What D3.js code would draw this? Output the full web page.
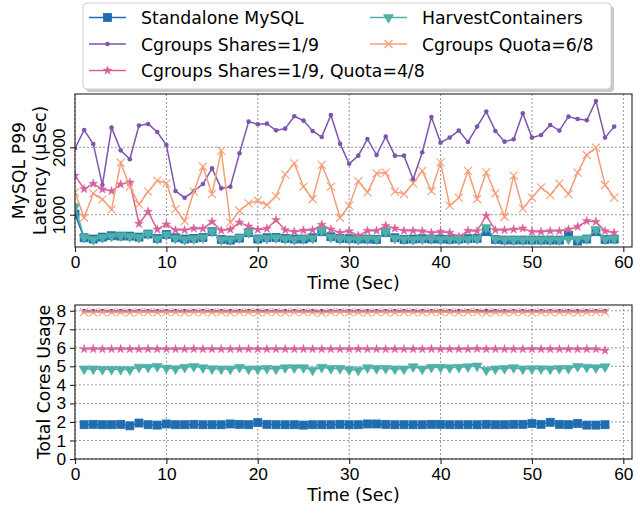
<!DOCTYPE html>
<html>
<head>
<meta charset="utf-8">
<script src="https://cdn.jsdelivr.net/npm/d3@7"></script>
<style>
  body { margin: 0; background: #fff; }
  svg { display: block; font-family: "DejaVu Sans", sans-serif; }
  .grid line { stroke: #8c8c8c; stroke-dasharray: 2,2; stroke-width: 0.9; }
  .axis text { font-size: 17.3px; fill: #000; }
  .axis path, .axis line { stroke: #222; stroke-width: 1.1; }
</style>
</head>
<body>
<div id="chart"></div>
<script>
var width = 636, height = 505;

// ---- data ----
var timeP99 = d3.range(0, 60);     // seconds 0..59
var timeCores = d3.range(1, 59);   // seconds 1..58

var standaloneP99 = [1010, 658, 639, 668, 688, 683, 683, 668, 713, 649,
  708, 658, 639, 649, 663, 748, 634, 624, 653, 733,
  639, 658, 663, 649, 639, 639, 658, 748, 673, 649,
  644, 639, 639, 634, 738, 658, 634, 639, 644, 639,
  639, 634, 639, 644, 649, 748, 634, 624, 624, 624,
  624, 624, 624, 624, 698, 609, 639, 748, 634, 639];
var harvestP99 = [1119, 663, 634, 663, 683, 688, 678, 663, 718, 644,
  703, 653, 634, 644, 658, 757, 629, 629, 658, 738,
  644, 653, 658, 644, 634, 644, 653, 762, 668, 644,
  639, 634, 644, 639, 748, 653, 639, 634, 639, 644,
  634, 639, 634, 639, 644, 812, 639, 629, 629, 629,
  629, 629, 629, 629, 639, 639, 644, 782, 639, 644];
var sharesP99 = [1985, 2257, 2050, 1440, 2292, 1955, 1822, 2322, 2347, 2228,
  2035, 1351, 1252, 1351, 1455, 1688, 1391, 1416, 1911, 2381,
  2342, 2351, 2252, 2277, 2460, 2396, 2243, 2153, 2480, 2054,
  1757, 1876, 2124, 1886, 2158, 1876, 1876, 1525, 1926, 2450,
  2069, 2144, 2248, 2079, 2307, 2530, 2243, 2084, 2119, 2505,
  2144, 2183, 2332, 2248, 2455, 2421, 2401, 2688, 2144, 2307];
var sharesQuotaP99 = [1579, 1381, 1460, 1376, 1351, 1450, 1480, 866, 1045, 782,
  856, 772, 772, 797, 792, 896, 767, 782, 886, 827,
  777, 792, 921, 772, 748, 767, 772, 852, 782, 733,
  757, 688, 762, 762, 837, 797, 762, 762, 757, 733,
  748, 733, 673, 762, 757, 985, 772, 772, 782, 797,
  748, 748, 757, 757, 782, 822, 906, 896, 757, 733];
var quotaP99 = [1332, 955, 1317, 1228, 1079, 1772, 1416, 1153, 1342, 1505,
  1465, 1084, 906, 1342, 1713, 1307, 1950, 886, 1059, 1168,
  1208, 1144, 1277, 1599, 1762, 1416, 1233, 1738, 1416, 955,
  1134, 1500, 1332, 1614, 1624, 1342, 1307, 1465, 1649, 1351,
  1777, 1134, 1252, 1649, 1233, 1629, 1317, 970, 1579, 1094,
  1252, 1406, 1292, 1460, 1307, 1624, 1886, 1995, 1441, 1252];

var standaloneCores = [1.85, 1.87, 1.85, 1.85, 1.87, 1.79, 1.94, 1.85, 1.83, 1.89,
  1.85, 1.85, 1.87, 1.85, 1.85, 1.85, 1.89, 1.87, 1.85, 1.96,
  1.87, 1.85, 1.85, 1.85, 1.83, 1.85, 1.85, 1.85, 1.87, 1.85,
  1.85, 1.89, 1.89, 1.87, 1.85, 1.85, 1.85, 1.85, 1.87, 1.87,
  1.85, 1.85, 1.85, 1.85, 1.87, 1.85, 1.85, 1.87, 1.87, 1.91,
  1.87, 1.98, 1.87, 1.85, 1.92, 1.83, 1.83, 1.85];
var harvestCores = [4.86, 4.86, 4.84, 4.84, 4.84, 4.82, 4.96, 4.95, 5.00, 4.91,
  4.87, 4.95, 5.00, 4.93, 4.87, 4.86, 4.86, 4.95, 4.86, 4.86,
  4.89, 4.86, 4.93, 4.93, 4.93, 4.80, 4.95, 4.89, 4.89, 4.82,
  4.80, 4.93, 4.89, 4.89, 4.86, 4.86, 4.98, 4.86, 4.95, 4.95,
  4.93, 4.95, 4.98, 5.02, 4.80, 4.86, 4.89, 4.93, 4.86, 4.87,
  4.87, 4.86, 4.89, 4.89, 5.00, 4.96, 4.93, 4.98];
var sharesCores = [7.98, 7.98, 7.99, 7.98, 7.98, 7.98, 7.99, 7.98, 7.98, 7.99,
  7.98, 7.98, 7.99, 7.98, 7.98, 7.98, 7.98, 7.99, 7.98, 8.00,
  7.98, 7.98, 7.98, 7.99, 7.98, 7.98, 7.98, 7.98, 7.98, 7.99,
  7.98, 7.98, 7.98, 7.98, 7.98, 7.99, 7.98, 7.98, 7.99, 7.98,
  7.98, 7.98, 7.98, 7.99, 8.00, 7.98, 7.98, 7.98, 7.98, 7.98,
  7.98, 7.99, 7.98, 7.98, 7.98, 7.98, 7.99, 7.98];
var sharesQuotaCores = [5.93, 5.94, 5.93, 5.93, 5.94, 5.93, 5.93, 5.94, 5.93, 5.93,
  5.93, 5.93, 5.94, 5.93, 5.93, 5.93, 5.93, 5.93, 5.94, 5.93,
  5.93, 5.93, 5.93, 5.93, 5.94, 5.93, 5.93, 5.93, 5.93, 5.93,
  5.94, 5.93, 5.93, 5.93, 5.93, 5.93, 5.93, 5.93, 5.94, 5.93,
  5.93, 5.93, 5.93, 5.95, 5.93, 5.93, 5.93, 5.93, 5.93, 5.94,
  5.93, 5.93, 5.93, 5.93, 5.93, 5.93, 5.93, 5.86];
var quotaCores = [7.92, 7.90, 7.93, 7.91, 7.92, 7.90, 7.93, 7.92, 7.91, 7.93,
  7.92, 7.90, 7.92, 7.93, 7.91, 7.92, 7.90, 7.92, 7.93, 7.91,
  7.92, 7.92, 7.90, 7.93, 7.92, 7.91, 7.88, 7.92, 7.93, 7.91,
  7.92, 7.90, 7.92, 7.93, 7.91, 7.92, 7.92, 7.91, 7.93, 7.92,
  7.92, 7.90, 7.93, 7.92, 7.88, 7.92, 7.91, 7.93, 7.92, 7.90,
  7.92, 7.93, 7.91, 7.92, 7.90, 7.92, 7.93, 7.92];

var xTicks = [0, 10, 20, 30, 40, 50, 60];
var p99Ticks = [1000, 2000];
var coresTicks = [0, 1, 2, 3, 4, 5, 6, 7, 8];

// series definitions; draw order = list order
var series = [
  {name: "Standalone MySQL", color: "#1f6cae", marker: "square", p99: standaloneP99, cores: standaloneCores},
  {name: "Cgroups Shares=1/9", color: "#7d55ae", marker: "dot", p99: sharesP99, cores: sharesCores},
  {name: "Cgroups Shares=1/9, Quota=4/8", color: "#d8639a", marker: "star", p99: sharesQuotaP99, cores: sharesQuotaCores},
  {name: "HarvestContainers", color: "#4fb0a8", marker: "tri", p99: harvestP99, cores: harvestCores},
  {name: "Cgroups Quota=6/8", color: "#f59d77", marker: "x", p99: quotaP99, cores: quotaCores}
];
var legendOrder = [0, 1, 2, 3, 4]; // column-major: 3 rows, 2 cols

var svg = d3.select("#chart").append("svg")
  .attr("width", width).attr("height", height);

var x = d3.scaleLinear().domain([0, 60.95]).range([75, 632]);
var yTop = d3.scaleLinear().domain([521, 2791]).range([247, 94]);
var yBot = d3.scaleLinear().domain([0, 8.31]).range([459, 305]);

function drawMarker(g, type, color) {
  if (type === "square") {
    g.append("rect").attr("x", -4).attr("y", -4).attr("width", 8).attr("height", 8)
      .attr("fill", color).attr("stroke", color).attr("stroke-width", 0.8);
  } else if (type === "dot") {
    g.append("circle").attr("r", 2.3).attr("fill", color);
  } else if (type === "star") {
    g.append("path").attr("d", d3.symbol().type(d3.symbolStar).size(24)())
      .attr("fill", color).attr("stroke", color).attr("stroke-width", 0.5);
  } else if (type === "tri") {
    g.append("path").attr("d", d3.symbol().type(d3.symbolTriangle).size(44)())
      .attr("transform", "rotate(180)")
      .attr("fill", color).attr("stroke", color).attr("stroke-width", 0.6);
  } else if (type === "x") {
    g.append("path").attr("d", "M-4,-4L4,4M-4,4L4,-4")
      .attr("fill", "none").attr("stroke", color).attr("stroke-width", 1.1);
  }
}

function panel(xs, key, y, yTicks, rotateY) {
  var top = y.range()[1], bottom = y.range()[0];
  var grid = svg.append("g").attr("class", "grid");
  grid.selectAll(".gx").data(xTicks).enter().append("line")
    .attr("x1", d => x(d)).attr("x2", d => x(d))
    .attr("y1", top).attr("y2", bottom);
  grid.selectAll(".gy").data(yTicks).enter().append("line")
    .attr("x1", x.range()[0]).attr("x2", x.range()[1])
    .attr("y1", d => y(d)).attr("y2", d => y(d));

  var clipId = "clip" + key;
  svg.append("clipPath").attr("id", clipId).append("rect")
    .attr("x", x.range()[0]).attr("y", top)
    .attr("width", x.range()[1] - x.range()[0]).attr("height", bottom - top);

  series.forEach(function(s) {
    var vals = s[key];
    var pts = vals.map((v, i) => [xs[i], v]);
    var g = svg.append("g").attr("clip-path", "url(#" + clipId + ")");
    g.append("path").datum(pts)
      .attr("fill", "none").attr("stroke", s.color).attr("stroke-width", 1.5)
      .attr("d", d3.line().x(d => x(d[0])).y(d => y(d[1])));
    g.selectAll(".m").data(pts).enter().append("g")
      .attr("transform", d => "translate(" + x(d[0]) + "," + y(d[1]) + ")")
      .each(function() { drawMarker(d3.select(this), s.marker, s.color); });
  });

  // axes
  var ax = svg.append("g").attr("class", "axis")
    .attr("transform", "translate(0," + bottom + ")")
    .call(d3.axisBottom(x).tickValues(xTicks).tickSize(5).tickPadding(4));
  ax.select(".domain").remove();
  var ay = svg.append("g").attr("class", "axis")
    .attr("transform", "translate(" + x.range()[0] + ",0)")
    .call(d3.axisLeft(y).tickValues(yTicks).tickFormat(d3.format("d")).tickSize(5).tickPadding(4));
  ay.select(".domain").remove();
  if (rotateY) {
    ay.selectAll(".tick text")
      .attr("x", null).attr("dy", null)
      .attr("text-anchor", "middle")
      .attr("transform", "translate(-10,0) rotate(-90)");
  }
  svg.append("rect")
    .attr("x", x.range()[0]).attr("y", top)
    .attr("width", x.range()[1] - x.range()[0]).attr("height", bottom - top)
    .attr("fill", "none").attr("stroke", "#222").attr("stroke-width", 1.1);

  svg.append("text")
    .attr("x", (x.range()[0] + x.range()[1]) / 2).attr("y", bottom + 42)
    .attr("text-anchor", "middle").attr("font-size", 17.3)
    .text("Time (Sec)");
}

panel(timeP99, "p99", yTop, p99Ticks, true);
panel(timeCores, "cores", yBot, coresTicks, false);

// y labels
var midTop = (yTop.range()[0] + yTop.range()[1]) / 2;
svg.append("text").attr("transform", "translate(25," + midTop + ") rotate(-90)")
  .attr("text-anchor", "middle").attr("font-size", 17.3).text("MySQL P99");
svg.append("text").attr("transform", "translate(45.5," + midTop + ") rotate(-90)")
  .attr("text-anchor", "middle").attr("font-size", 17.3).text("Latency (µSec)");
var midBot = (yBot.range()[0] + yBot.range()[1]) / 2;
svg.append("text").attr("transform", "translate(49.5," + midBot + ") rotate(-90)")
  .attr("text-anchor", "middle").attr("font-size", 17.3).text("Total Cores Usage");

// legend
var lg = svg.append("g");
var lx = 83, ly = 3, lw = 528, lh = 86;
lg.append("rect").attr("x", lx + 3).attr("y", ly + 3).attr("width", lw).attr("height", lh)
  .attr("rx", 4).attr("fill", "#bbb").attr("opacity", 0.8);
lg.append("rect").attr("x", lx).attr("y", ly).attr("width", lw).attr("height", lh)
  .attr("rx", 4).attr("fill", "#fff").attr("stroke", "#d0d0d0").attr("stroke-width", 1);
var colX = [89, 370], rowY = [17.5, 44, 70.5];
legendOrder.forEach(function(si, k) {
  var s = series[si];
  var c = Math.floor(k / 3), r = k % 3;
  var g = lg.append("g").attr("transform", "translate(" + colX[c] + "," + rowY[r] + ")");
  g.append("line").attr("x1", 0).attr("x2", 37).attr("stroke", s.color).attr("stroke-width", 1.5);
  drawMarker(g.append("g").attr("transform", "translate(18.5,0)"), s.marker, s.color);
  g.append("text").attr("x", 52).attr("y", 6.5).attr("font-size", 17.3).text(s.name);
});
</script>
</body>
</html>
